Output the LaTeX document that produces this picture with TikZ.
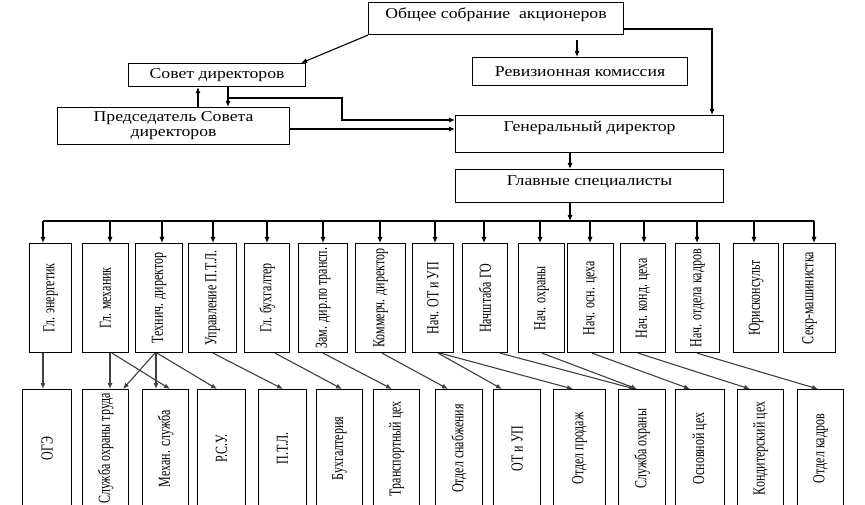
\documentclass[tikz,border=0pt]{standalone}
\usepackage{fontspec}
\setmainfont{Liberation Serif}
\usepackage{graphicx}
\usetikzlibrary{arrows.meta}
\newcommand\hT[1]{\scalebox{1.18}[1]{#1}}
\newcommand\vT[1]{\rotatebox{90}{\scalebox{1}[1.4]{#1}}}
\begin{document}
\begin{tikzpicture}[x=1pt,y=-1pt,
  bx/.style={draw, line width=1.1pt, inner sep=0pt, anchor=north west},
  hf/.style={font=\fontsize{15}{15}\selectfont},
  vf/.style={font=\fontsize{12}{12}\selectfont},
  toptext/.style={text height=16pt, text depth=#1, inner ysep=0pt},
  arr/.style={line width=1.1pt, -{Latex[length=6pt,width=5pt]}},
  darr/.style={line width=1.1pt, draw=black!75, -{Latex[length=6pt,width=5pt]}},
  ln/.style={line width=1.1pt}
]
\clip (0,0) rectangle (865,505);
\fill[white] (0,0) rectangle (865,505);

% top level
\node[bx, hf, minimum width=255, minimum height=32, toptext=16pt] (obs) at (368,2) {\hT{Общее собрание~ акционеров}};
\node[bx, hf, minimum width=177, minimum height=23] (sovet) at (128,63) {\hT{Совет директоров}};
\node[bx, hf, minimum width=215, minimum height=28] (rev) at (472,57) {\hT{Ревизионная комиссия}};
\node[bx, hf, minimum width=232, minimum height=37, align=center] (pred) at (57,107) {\hT{Председатель Совета}\\\hT{директоров}};
\node[bx, hf, minimum width=268, minimum height=37, toptext=21pt] (gen) at (455,115) {\hT{Генеральный директор}};
\node[bx, hf, minimum width=268, minimum height=33, toptext=17pt] (glav) at (455,169) {\hT{Главные специалисты}};

% top connectors
\draw[arr] (obs.south west) -- ([xshift=-5pt]sovet.north east);
\coordinate (r0) at (577,40);
\draw[arr] (r0) -- (r0 |- rev.north);
\coordinate (c1) at (712,29);
\draw[arr] (c1 -| obs.east) -- (c1) -- (c1 |- gen.north);
\coordinate (xa) at (198,0);
\draw[arr] (pred.north -| xa) -- (sovet.south -| xa);
\coordinate (xb) at (228,98);
\draw[arr] (sovet.south -| xb) -- (pred.north -| xb);
\coordinate (k2) at (342,98);
\coordinate (k3) at (342,120);
\draw[arr] (xb) -- (k2) -- (k3) -- (k3 -| gen.west);
\coordinate (k4) at (0,129);
\draw[arr] (k4 -| pred.east) -- (k4 -| gen.west);
\coordinate (g0) at (570,0);
\draw[arr] (gen.south -| g0) -- (glav.north -| g0);
\coordinate (bus) at (570,221);
\draw[arr] (glav.south -| bus) -- (bus);
\coordinate (busL) at (43,221);
\coordinate (busR) at (814,221);
\draw[ln] (busL) -- (busR);

% middle row
\foreach \a/\b/\x/\n/\t in {
  29/71/43/m1/{Гл. энергетик},
  82/128/110/m2/{Гл. механик},
  135/182/162/m3/{Технич. директор},
  188/236/213/m4/{Управление П.Т.Л.},
  244/289/267/m5/{Гл. бухгалтер},
  298/347/323/m6/{Зам. дир.по трансп.},
  355/405/380/m7/{Коммерч. директор},
  412/453/435/m8/{Нач. ОТ и УП},
  462/507/484/m9/{Начштаба ГО},
  518/564/540/m10/{Нач. охраны},
  567/613/590/m11/{Нач. осн. цеха},
  620/665/644/m12/{Нач. конд. цеха},
  675/719/697/m13/{Нач. отдела кадров},
  733/778/754/m14/{Юрисконсульт},
  783/835/814/m15/{Секр-машинистка}}{
  \node[bx, vf, minimum width=\b-\a, minimum height=109] (\n) at (\a,243) {\vT{\t}};
  \coordinate (t\n) at (\x,221);
  \draw[arr] (t\n) -- (t\n |- \n.north);
}

% bottom row
\foreach \a/\b/\n/\t in {
  22/71/b1/{ОГЭ},
  82/128/b2/{Служба охраны труда},
  142/188/b3/{Механ. служба},
  197/245/b4/{Р.С.У.},
  258/306/b5/{П.Т.Л.},
  316/362/b6/{Бухгалтерия},
  373/419/b7/{Транспортный цех},
  435/482/b8/{Отдел снабжения},
  493/540/b9/{ОТ и УП},
  553/605/b10/{Отдел продаж},
  618/665/b11/{Служба охраны},
  675/724/b12/{Основной цех},
  737/783/b13/{Кондитерский цех},
  797/843/b14/{Отдел кадров}}{
  \node[bx, vf, minimum width=\b-\a, minimum height=118] (\n) at (\a,389) {\vT{\t}};
}

% middle to bottom connectors
\foreach \s/\sx/\e/\ex in {
  m1/43/b1/43,
  m2/110/b2/110,
  m2/112/b3/170,
  m3/155/b2/123,
  m3/156/b3/156,
  m3/157/b4/217,
  m4/213/b5/283,
  m5/275/b6/342,
  m6/323/b7/392,
  m7/382/b8/448,
  m8/438/b9/502,
  m8/440/b10/573,
  m9/500/b11/635,
  m10/542/b11/637,
  m11/592/b12/690,
  m12/638/b13/750,
  m13/697/b14/818}{
  \draw[darr] (\s.south -| \sx,0) -- (\e.north -| \ex,0);
}
\end{tikzpicture}
\end{document}
